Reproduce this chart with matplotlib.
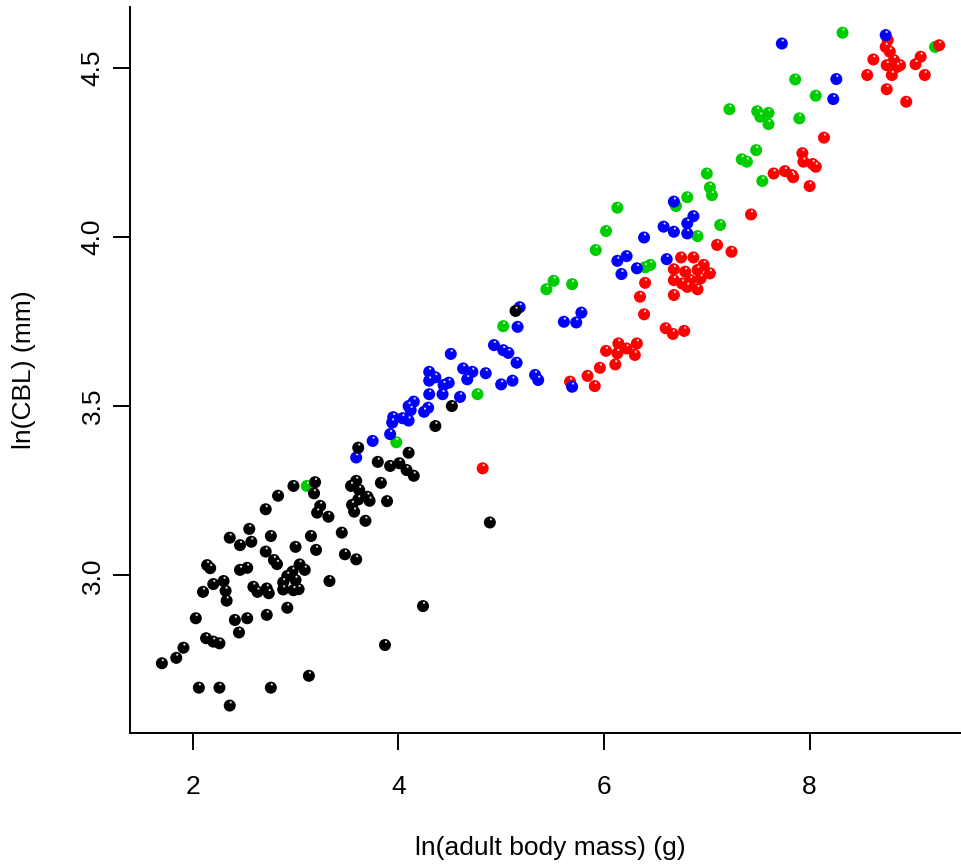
import numpy as np
import matplotlib
matplotlib.use("Agg")
import matplotlib.pyplot as plt
from matplotlib.transforms import offset_copy

plt.rcParams["font.family"] = ["Liberation Sans", "DejaVu Sans"]

# ln(adult body mass), ln(CBL) pairs per group
black_pts = [
    (3.19, 3.275), (2.98, 3.264), (3.18, 3.242), (2.83, 3.235), (3.24, 3.205),
    (3.21, 3.185), (3.32, 3.173), (2.71, 3.195), (2.55, 3.137), (2.36, 3.111),
    (2.46, 3.089), (2.57, 3.099), (2.76, 3.116), (3.15, 3.116), (3.00, 3.084),
    (3.20, 3.075), (3.45, 3.126), (2.71, 3.070), (2.79, 3.045), (2.82, 3.033),
    (2.14, 3.030), (2.17, 3.021), (2.46, 3.016), (2.53, 3.022), (3.04, 3.032),
    (3.09, 3.016), (2.97, 3.011), (2.92, 2.998), (3.00, 2.986), (2.88, 2.979),
    (2.30, 2.983), (2.20, 2.974), (2.10, 2.951), (2.32, 2.954), (2.59, 2.966),
    (2.63, 2.951), (2.72, 2.961), (2.74, 2.947), (2.88, 2.958), (2.98, 2.956),
    (3.03, 2.959), (3.33, 2.983), (2.33, 2.925), (2.03, 2.873), (2.72, 2.883),
    (2.92, 2.904), (2.41, 2.868), (2.53, 2.873), (2.45, 2.831), (2.13, 2.814),
    (2.20, 2.804), (2.26, 2.799), (1.91, 2.786), (1.84, 2.756), (1.70, 2.740),
    (2.06, 2.668), (2.26, 2.668), (2.76, 2.668), (2.36, 2.615), (3.13, 2.703),
    (4.52, 3.500), (4.36, 3.441), (3.61, 3.377), (4.10, 3.362), (3.80, 3.335),
    (3.92, 3.323), (4.01, 3.331), (4.08, 3.311), (4.15, 3.294), (3.59, 3.279),
    (3.54, 3.264), (3.62, 3.252), (3.83, 3.273), (3.70, 3.232), (3.72, 3.220),
    (3.61, 3.224), (3.55, 3.208), (3.57, 3.188), (3.89, 3.219), (3.68, 3.161),
    (3.48, 3.062), (3.59, 3.047), (4.24, 2.909), (4.89, 3.156), (3.87, 2.794),
    (5.14, 3.781),
]

blue_pts = [
    (4.93, 3.680), (5.02, 3.665), (5.07, 3.657), (4.51, 3.654), (5.15, 3.628),
    (4.63, 3.611), (4.72, 3.601), (4.85, 3.597), (4.30, 3.601), (4.36, 3.585),
    (4.30, 3.575), (4.49, 3.569), (4.44, 3.562), (4.67, 3.579), (5.11, 3.575),
    (5.00, 3.564), (4.30, 3.535), (4.43, 3.535), (4.60, 3.527), (4.15, 3.513),
    (4.10, 3.500), (4.12, 3.488), (4.29, 3.495), (4.25, 3.483), (3.95, 3.467),
    (3.94, 3.451), (4.04, 3.464), (4.10, 3.457), (3.92, 3.417), (3.75, 3.397),
    (3.59, 3.348), (5.33, 3.592), (5.36, 3.577), (5.18, 3.792), (5.16, 3.734),
    (5.78, 3.776), (5.61, 3.749), (5.73, 3.747), (5.69, 3.557), (6.68, 4.104),
    (6.87, 4.061), (6.81, 4.040), (6.58, 4.030), (6.68, 4.015), (6.81, 4.010),
    (6.39, 3.998), (6.22, 3.943), (6.13, 3.929), (6.17, 3.890), (6.32, 3.907),
    (6.61, 3.934), (7.73, 4.571), (8.74, 4.596), (8.26, 4.466), (8.23, 4.407),
]

green_pts = [
    (3.11, 3.264), (4.77, 3.535), (3.98, 3.393), (5.02, 3.736), (6.13, 4.086),
    (6.02, 4.017), (5.92, 3.961), (5.51, 3.870), (5.44, 3.845), (5.69, 3.860),
    (6.45, 3.917), (6.40, 3.910), (6.70, 4.091), (6.81, 4.117), (7.03, 4.146),
    (7.05, 4.123), (6.91, 4.002), (7.13, 4.035), (8.32, 4.603), (7.86, 4.465),
    (8.06, 4.417), (7.22, 4.377), (7.49, 4.371), (7.52, 4.355), (7.60, 4.366),
    (7.60, 4.333), (7.90, 4.350), (7.48, 4.256), (7.34, 4.229), (7.39, 4.222),
    (7.54, 4.165), (7.00, 4.187), (9.22, 4.561),
]

red_pts = [
    (4.82, 3.316), (7.43, 4.066), (7.10, 3.976), (7.24, 3.956), (6.75, 3.939),
    (6.87, 3.939), (6.97, 3.917), (6.68, 3.904), (6.79, 3.897), (6.91, 3.902),
    (7.03, 3.892), (6.68, 3.872), (6.76, 3.862), (6.84, 3.872), (6.94, 3.877),
    (6.81, 3.852), (6.91, 3.845), (6.40, 3.864), (6.35, 3.823), (6.68, 3.828),
    (6.39, 3.771), (6.60, 3.730), (6.67, 3.713), (6.78, 3.722), (6.14, 3.685),
    (6.32, 3.685), (6.02, 3.663), (6.13, 3.656), (6.22, 3.670), (6.30, 3.651),
    (6.11, 3.623), (5.96, 3.613), (5.84, 3.589), (5.91, 3.559), (5.67, 3.572),
    (8.76, 4.581), (9.26, 4.566), (8.74, 4.561), (8.78, 4.547), (8.62, 4.524),
    (9.08, 4.532), (9.03, 4.510), (8.82, 4.522), (8.75, 4.507), (8.85, 4.502),
    (8.80, 4.478), (8.88, 4.507), (8.56, 4.478), (9.12, 4.478), (8.75, 4.436),
    (8.94, 4.399), (8.14, 4.293), (7.93, 4.247), (7.94, 4.222), (8.03, 4.215),
    (8.06, 4.207), (7.65, 4.187), (7.76, 4.194), (7.83, 4.182), (7.84, 4.176),
    (8.00, 4.150),
]

groups = [
    (green_pts, "#00cd00"),
    (red_pts, "#ff0000"),
    (blue_pts, "#0000ff"),
    (black_pts, "#000000"),
]

fig = plt.figure(figsize=(9.61, 8.68), dpi=100)
W, H = 961, 868
ax = fig.add_axes([130 / W, (H - 733) / H, (970 - 130) / W, (733 - 7) / H])

# small glint on each dot, shifted up from the centre
glint = offset_copy(ax.transData, fig=fig, x=0.7, y=2.3, units="points")

z = 3
for pts, col in groups:
    arr = np.array(pts)
    ax.scatter(arr[:, 0], arr[:, 1], s=75, color=col, edgecolors="none",
               clip_on=False, zorder=z)
    ax.scatter(arr[:, 0], arr[:, 1], s=2.5, color="white", alpha=0.85,
               edgecolors="none", transform=glint, clip_on=False,
               zorder=z + 0.5)
    z += 1

ax.set_xlim(1.39, 9.56)
ax.set_ylim(2.534, 4.679)

ax.spines["top"].set_visible(False)
ax.spines["right"].set_visible(False)
for sp in ("left", "bottom"):
    ax.spines[sp].set_linewidth(1.4)

ax.set_xticks([2, 4, 6, 8])
ax.set_yticks([3.0, 3.5, 4.0, 4.5])
ax.set_yticklabels(["3.0", "3.5", "4.0", "4.5"], rotation=90, va="center")
ax.tick_params(axis="both", length=12.2, width=1.4, labelsize=19)
ax.tick_params(axis="x", pad=18)
ax.tick_params(axis="y", pad=6)

ax.set_xlabel("ln(adult body mass) (g)", fontsize=19)
ax.xaxis.set_label_coords(0.5, -0.142)
ax.set_ylabel("ln(CBL) (mm)", fontsize=19)
ax.yaxis.set_label_coords(-0.112, 0.5)

fig.savefig("out.png", dpi=100)
